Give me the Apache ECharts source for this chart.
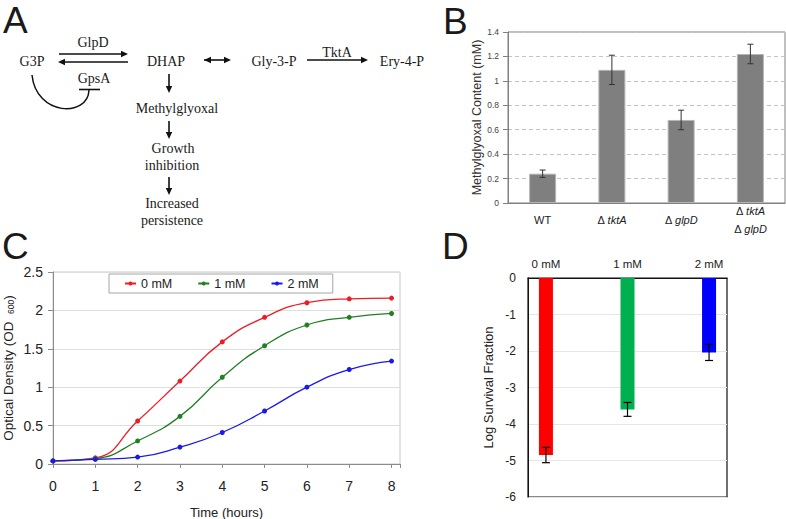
<!DOCTYPE html>
<html><head><meta charset="utf-8">
<script src="https://cdn.jsdelivr.net/npm/echarts@6/dist/echarts.min.js"></script>
<style>html,body{margin:0;padding:0;background:#fff}#c{width:786px;height:519px}</style>
</head><body><div id="c"></div>
<script>
// ---------- Panel B data ----------
const bCategories = ['WT', 'ΔtktA', 'ΔglpD', 'ΔtktA\nΔglpD'];
const bValues = [0.24, 1.09, 0.68, 1.22];
const bErrors = [0.03, 0.12, 0.08, 0.08];
const bAxisMin = 0, bAxisMax = 1.4, bAxisStep = 0.2;

// ---------- Panel C data ----------
const cHours = [0, 1, 2, 3, 4, 5, 6, 7, 8];
const cSeriesNames = ['0 mM', '1 mM', '2 mM'];
const c0mM = [0.04, 0.08, 0.56, 1.08, 1.59, 1.91, 2.10, 2.15, 2.16];
const c1mM = [0.04, 0.07, 0.30, 0.62, 1.13, 1.54, 1.81, 1.91, 1.96];
const c2mM = [0.04, 0.06, 0.09, 0.22, 0.41, 0.69, 1.00, 1.23, 1.34];
const cAxisYMin = 0, cAxisYMax = 2.5, cAxisYStep = 0.5;

// ---------- Panel D data ----------
const dCategories = ['0 mM', '1 mM', '2 mM'];
const dValues = [-4.85, -3.60, -2.04];
const dErrors = [0.21, 0.19, 0.22];
const dAxisMin = -6, dAxisMax = 0, dAxisStep = 1;

const SANS = 'Liberation Sans, Arial, sans-serif';
const SERIF = 'Liberation Serif, Times New Roman, serif';

const chart = echarts.init(document.getElementById('c'), null, {renderer: 'svg', width: 786, height: 519});

function errRender(capHalf, color, lw) {
  return function (params, api) {
    const x = api.value(0), lo = api.value(1), hi = api.value(2);
    const a = api.coord([x, lo]), b = api.coord([x, hi]);
    const st = {stroke: color, lineWidth: lw};
    return {type: 'group', children: [
      {type: 'line', shape: {x1: a[0], y1: a[1], x2: b[0], y2: b[1]}, style: st},
      {type: 'line', shape: {x1: a[0] - capHalf, y1: a[1], x2: a[0] + capHalf, y2: a[1]}, style: st},
      {type: 'line', shape: {x1: b[0] - capHalf, y1: b[1], x2: b[0] + capHalf, y2: b[1]}, style: st}
    ]};
  };
}

// ---------- Panel A diagram (graphic) ----------
function head(x, y, a) {
  const L = 7, W = 3.2;
  const c = Math.cos(a), s = Math.sin(a);
  return {type: 'polygon', shape: {points: [[x, y], [x - L * c + W * s, y - L * s - W * c], [x - L * c - W * s, y - L * s + W * c]]}, style: {fill: '#111'}};
}
function arrow(x1, y1, x2, y2, both) {
  const a = Math.atan2(y2 - y1, x2 - x1);
  const els = [{type: 'line', shape: {x1: x1, y1: y1, x2: x2 - 5 * Math.cos(a), y2: y2 - 5 * Math.sin(a)}, style: {stroke: '#111', lineWidth: 1.6}}];
  els.push(head(x2, y2, a));
  if (both) els.push(head(x1, y1, a + Math.PI));
  return els;
}
function label(t, x, y, font, align) {
  return {type: 'text', style: {text: t, x: x, y: y, font: font, fill: '#1a1a1a', textAlign: align || 'center', textVerticalAlign: 'middle', verticalAlign: 'middle'}};
}
const serif = '14px ' + SERIF;
const letterFont = '37px ' + SANS;
let g = [];
g.push(label('A', 3, 20, letterFont, 'left'));
g.push(label('B', 443, 21, letterFont, 'left'));
g.push(label('C', 2, 246, letterFont, 'left'));
g.push(label('D', 442, 246, letterFont, 'left'));
g.push(label('GlpD', 93, 42, serif));
g.push(label('G3P', 32, 61, serif));
g.push(label('GpsA', 94, 78, serif));
g.push(label('DHAP', 166, 61, serif));
g.push(label('Gly-3-P', 274, 61, serif));
g.push(label('TktA', 337, 52, serif));
g.push(label('Ery-4-P', 402, 61, serif));
g.push(label('Methylglyoxal', 177, 108, serif));
g.push(label('Growth', 173, 148, serif));
g.push(label('inhibition', 172, 165, serif));
g.push(label('Increased', 172, 203, serif));
g.push(label('persistence', 172, 220, serif));
g = g.concat(arrow(59, 54, 128, 54));
g = g.concat(arrow(128, 62, 58, 62));
g = g.concat(arrow(204, 60, 231, 60, true));
g = g.concat(arrow(307, 60, 368, 60));
g = g.concat(arrow(169, 74, 169, 93));
g = g.concat(arrow(169, 121, 169, 139));
g = g.concat(arrow(169, 177, 169, 195));
g.push({type: 'bezierCurve', shape: {x1: 32, y1: 75, cpx1: 36, cpy1: 116, cpx2: 88, cpy2: 118, x2: 89, y2: 90}, style: {stroke: '#111', lineWidth: 1.5, fill: null}});
g.push({type: 'line', shape: {x1: 79, y1: 89.5, x2: 100, y2: 89.5}, style: {stroke: '#111', lineWidth: 1.6}});

function bLabelFmt(v) {
  return v.split('\n').map(function (l) {
    return l.charAt(0) === 'Δ' ? '{n|Δ }{i|' + l.slice(1) + '}' : '{n|' + l + '}';
  }).join('\n');
}

const option = {
  backgroundColor: '#fff',
  animation: false,
  textStyle: {fontFamily: SANS},
  graphic: g,
  legend: {
    data: cSeriesNames,
    left: 109, top: 274,
    orient: 'horizontal',
    borderColor: '#a6a6a6', borderWidth: 1,
    backgroundColor: '#fff',
    padding: [3, 14, 3, 15],
    itemGap: 25, itemWidth: 11, itemHeight: 5,
    textStyle: {fontSize: 12.5, color: '#222', fontFamily: SANS}
  },
  grid: [
    {left: 508, top: 32, width: 277, height: 171, show: true, borderColor: '#808080', borderWidth: 1, containLabel: false, outerBoundsMode: 'none'},
    {left: 53, top: 272, width: 347, height: 192, show: true, borderColor: '#c8c8c8', borderWidth: 1, containLabel: false, outerBoundsMode: 'none'},
    {left: 528, top: 278, width: 199, height: 219, show: true, borderColor: '#111', borderWidth: 1.2, containLabel: false, outerBoundsMode: 'none'}
  ],
  xAxis: [
    {gridIndex: 0, type: 'category', data: bCategories,
     axisLine: {lineStyle: {color: '#808080'}}, axisTick: {show: false},
     axisLabel: {margin: 17, verticalAlign: 'middle', formatter: bLabelFmt, interval: 0,
       rich: {n: {fontSize: 11, color: '#222', fontFamily: SANS, lineHeight: 18}, i: {fontSize: 11, color: '#222', fontStyle: 'italic', fontFamily: SANS, lineHeight: 18}}}},
    {gridIndex: 1, type: 'value', min: 0, max: 8.2, interval: 1,
     name: 'Time (hours)', nameLocation: 'middle', nameGap: 42,
     nameTextStyle: {fontSize: 13, color: '#222'},
     axisLine: {onZero: false, lineStyle: {color: '#8c8c8c'}},
     axisTick: {show: true, length: 4, lineStyle: {color: '#8c8c8c'}},
     splitLine: {show: false},
     axisLabel: {fontSize: 14, color: '#222', margin: 15, formatter: function (v) { return Number.isInteger(v) ? String(v) : ''; }}},
    {gridIndex: 2, type: 'value', position: 'top', min: -0.22, max: 2.22, interval: 0.02,
     axisLine: {onZero: false, lineStyle: {color: '#111'}}, axisTick: {show: false},
     splitLine: {show: false},
     axisLabel: {fontSize: 11.5, color: '#222', margin: 8, formatter: function (v) {
       const r = Math.round(v);
       return Math.abs(v - r) < 1e-6 && dCategories[r] !== undefined ? dCategories[r] : '';
     }}}
  ],
  yAxis: [
    {gridIndex: 0, type: 'value', min: bAxisMin, max: bAxisMax, interval: bAxisStep,
     name: 'Methylglyoxal Content (mM)', nameLocation: 'middle', nameGap: 23,
     nameTextStyle: {fontSize: 12.5, color: '#333'},
     axisLine: {show: true, onZero: false, lineStyle: {color: '#808080'}},
     axisTick: {show: true, length: 5, lineStyle: {color: '#808080'}},
     axisLabel: {fontSize: 8.5, color: '#444', margin: 9},
     splitLine: {lineStyle: {color: '#c4c4c4', type: [4, 3]}}},
    {gridIndex: 1, type: 'value', min: cAxisYMin, max: cAxisYMax, interval: cAxisYStep,
     name: '{a|Optical Density (OD  }{s|600}{a|)}', nameLocation: 'middle', nameGap: 32,
     nameTextStyle: {rich: {a: {fontSize: 13.5, color: '#222', lineHeight: 14, verticalAlign: 'top', fontFamily: SANS}, s: {fontSize: 8.5, color: '#222', lineHeight: 20, fontFamily: SANS}}},
     axisLine: {show: true, onZero: false, lineStyle: {color: '#8c8c8c'}},
     axisTick: {show: true, length: 5, lineStyle: {color: '#8c8c8c'}},
     axisLabel: {fontSize: 14, color: '#222', margin: 10},
     splitLine: {lineStyle: {color: '#dedede', width: 1}}},
    {gridIndex: 2, type: 'value', min: dAxisMin, max: dAxisMax, interval: dAxisStep,
     name: 'Log Survival Fraction', nameLocation: 'middle', nameGap: 33,
     nameTextStyle: {fontSize: 13, color: '#222'},
     axisLine: {show: true, onZero: false, lineStyle: {color: '#111'}},
     axisTick: {show: false},
     axisLabel: {fontSize: 12, color: '#222', margin: 12},
     splitLine: {lineStyle: {color: '#e6e6e6'}}}
  ],
  series: [
    {type: 'bar', xAxisIndex: 0, yAxisIndex: 0, data: bValues, barWidth: 27,
     itemStyle: {color: '#7f7f7f', borderColor: '#b5b5b5', borderWidth: 1}},
    {type: 'custom', xAxisIndex: 0, yAxisIndex: 0, z: 5,
     renderItem: errRender(3, '#333', 1),
     data: bValues.map(function (v, i) { return [i, v - bErrors[i], v + bErrors[i]]; })},
    {type: 'line', name: cSeriesNames[0], xAxisIndex: 1, yAxisIndex: 1, smooth: true,
     data: cHours.map(function (h, i) { return [h, c0mM[i]]; }),
     symbol: 'circle', symbolSize: 5, color: '#ee1c24', lineStyle: {width: 1.3, color: '#ee1c24'}, itemStyle: {color: '#ee1c24'}},
    {type: 'line', name: cSeriesNames[1], xAxisIndex: 1, yAxisIndex: 1, smooth: true,
     data: cHours.map(function (h, i) { return [h, c1mM[i]]; }),
     symbol: 'circle', symbolSize: 5, color: '#237f23', lineStyle: {width: 1.3, color: '#237f23'}, itemStyle: {color: '#237f23'}},
    {type: 'line', name: cSeriesNames[2], xAxisIndex: 1, yAxisIndex: 1, smooth: true,
     data: cHours.map(function (h, i) { return [h, c2mM[i]]; }),
     symbol: 'circle', symbolSize: 5, color: '#1a1aee', lineStyle: {width: 1.3, color: '#1a1aee'}, itemStyle: {color: '#1a1aee'}},
    {type: 'bar', xAxisIndex: 2, yAxisIndex: 2, barWidth: 14,
     data: dValues.map(function (v, i) { return {value: [i, v], itemStyle: {color: ['#ff0000', '#00b050', '#0000ff'][i]}}; })},
    {type: 'custom', xAxisIndex: 2, yAxisIndex: 2, z: 5,
     renderItem: errRender(4, '#000', 1.2),
     data: dValues.map(function (v, i) { return [i, v - dErrors[i], v + dErrors[i]]; })}
  ]
};
chart.setOption(option);
</script>
</body></html>
